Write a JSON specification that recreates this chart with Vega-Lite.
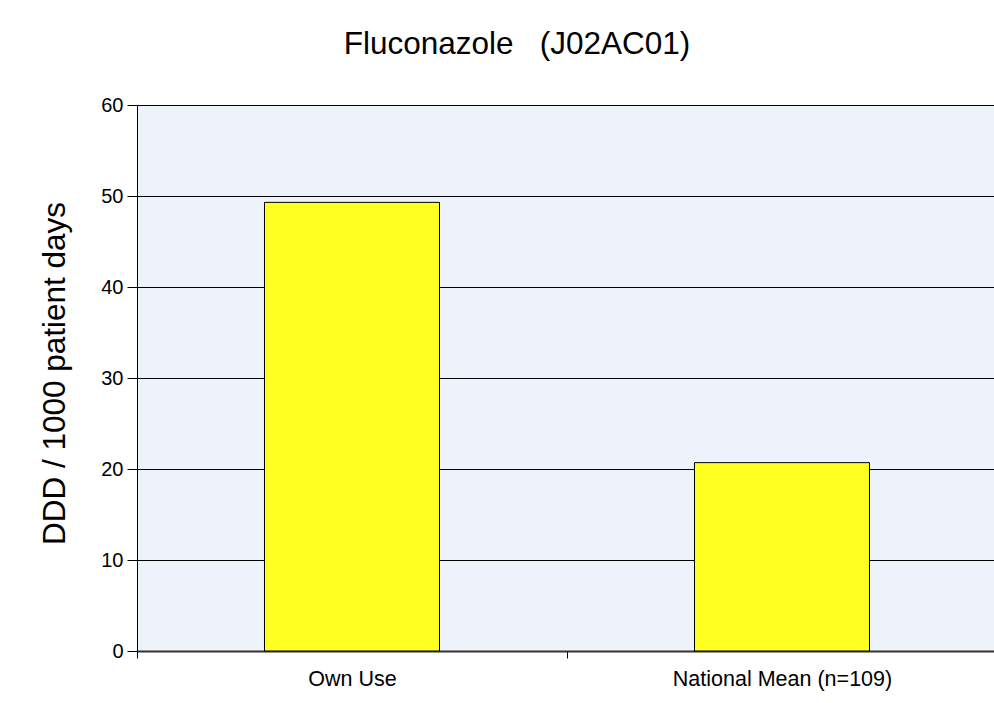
{
  "$schema": "https://vega.github.io/schema/vega-lite/v6.json",
  "autosize": {"type": "none"},
  "padding": {"left": 137, "top": 105, "right": 0, "bottom": 52},
  "width": 860,
  "height": 546,
  "background": "white",
  "title": {
    "text": "Fluconazole\u00a0\u00a0\u00a0(J02AC01)",
    "font": "Liberation Sans",
    "fontSize": 31.5,
    "fontWeight": "normal",
    "color": "black",
    "anchor": "middle",
    "dx": -50,
    "offset": 35
  },
  "data": {
    "values": [
      {"category": "Own Use", "value": 49.3},
      {"category": "National Mean (n=109)", "value": 20.7}
    ]
  },
  "mark": {"type": "bar", "fill": "#FFFF22", "stroke": "black", "strokeWidth": 1, "width": {"band": 0.407}},
  "encoding": {
    "x": {
      "field": "category",
      "type": "nominal",
      "sort": null,
      "scale": {"paddingInner": 0, "paddingOuter": 0},
      "axis": {
        "title": null,
        "labelAngle": 0,
        "labelFont": "Liberation Sans",
        "labelFontSize": 21.5,
        "labelColor": "black",
        "labelPadding": 10,
        "labelLimit": 0,
        "domainColor": "#333333",
        "domainWidth": 2,
        "tickBand": "extent",
        "tickColor": "black",
        "tickSize": 7,
        "grid": false
      }
    },
    "y": {
      "field": "value",
      "type": "quantitative",
      "scale": {"domain": [0, 60], "nice": false},
      "axis": {
        "title": "DDD / 1000 patient days",
        "titleFont": "Liberation Sans",
        "titleFontSize": 31.5,
        "titleFontWeight": "normal",
        "titleColor": "black",
        "titlePadding": 29,
        "titleY": 268,
        "values": [0, 10, 20, 30, 40, 50, 60],
        "labelFont": "Liberation Sans",
        "labelFontSize": 20,
        "labelColor": "black",
        "labelPadding": 4,
        "domainColor": "black",
        "domainWidth": 1,
        "tickColor": "black",
        "tickSize": 10,
        "grid": true,
        "gridColor": "black",
        "gridOpacity": 1,
        "gridWidth": 1
      }
    }
  },
  "config": {
    "view": {"fill": "#EEF2FA", "stroke": null}
  }
}
